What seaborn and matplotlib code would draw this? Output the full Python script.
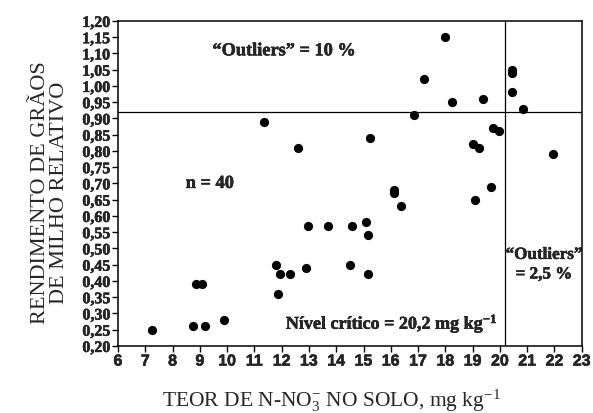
import numpy as np
import pandas as pd
import seaborn as sns
import matplotlib.pyplot as plt
import matplotlib.patheffects as pe

# Soil nitrate content (mg/kg) and relative corn yield
teor_no3 = [7.25, 8.75, 9.2, 8.85, 9.07, 9.9, 11.8, 11.85, 11.95, 12.3,
            12.9, 12.97, 13.7, 14.56, 15.08, 15.18, 14.5, 15.16, 16.1, 16.12,
            16.37, 19.07, 19.69, 12.6, 11.34, 15.24, 16.85, 17.21, 17.98, 18.23,
            19.37, 20.44, 20.44, 20.44, 20.84, 19.75, 19.98, 19.0, 19.22, 21.93]
rendimento = [0.25, 0.26, 0.26, 0.39, 0.39, 0.28, 0.45, 0.36, 0.42, 0.42,
              0.44, 0.57, 0.57, 0.57, 0.58, 0.54, 0.45, 0.42, 0.68, 0.67,
              0.63, 0.65, 0.69, 0.81, 0.89, 0.84, 0.91, 1.02, 1.15, 0.95,
              0.96, 1.05, 1.04, 0.98, 0.93, 0.87, 0.86, 0.82, 0.81, 0.79]
nivel_critico = 20.2
rend_limite = 0.92
x_ticks = list(range(6, 24))
y_ticks = [round(0.20 + 0.05 * i, 2) for i in range(21)]
y_labels = [f'{v:.2f}'.replace('.', ',') for v in y_ticks]

df = pd.DataFrame({'teor': teor_no3, 'rend': rendimento})

sns.set_style('ticks')
plt.rcParams['font.family'] = ['Liberation Serif', 'DejaVu Serif']
plt.rcParams['mathtext.fontset'] = 'custom'
plt.rcParams['mathtext.rm'] = 'Liberation Serif'
plt.rcParams['mathtext.it'] = 'Liberation Serif:italic'
plt.rcParams['mathtext.bf'] = 'Liberation Serif:bold'

# a thin stroke to make bold text as heavy as the original
heavy = [pe.withStroke(linewidth=0.35, foreground='black')]

fig = plt.figure(figsize=(5.93, 4.14), dpi=100)
ax = fig.add_axes([0.199, 0.162, 0.782, 0.785])

sns.scatterplot(x='teor', y='rend', data=df, ax=ax, color='black',
                s=44, edgecolor='black', linewidth=0, zorder=3)

ax.axhline(rend_limite, color='black', lw=0.9)
ax.axvline(nivel_critico, color='black', lw=0.9)

ax.set_xlim(6, 23)
ax.set_ylim(0.20, 1.20)
ax.set_xticks(x_ticks)
ax.set_xticklabels([str(v) for v in x_ticks], fontfamily='Liberation Sans',
                   fontweight='bold', fontsize=11.5, path_effects=heavy)
ax.set_yticks(y_ticks)
ax.set_yticklabels(y_labels, fontweight='bold', fontsize=11.5, path_effects=heavy)
ax.tick_params(direction='out', length=4, width=1, color='black', pad=1.5)
for sp in ax.spines.values():
    sp.set_color('black')
    sp.set_linewidth(1.1)

ax.set_xlabel(r'TEOR DE N-NO$_3^{-}$ NO SOLO, mg kg$^{-1}$', fontsize=15.5)
ax.xaxis.set_label_coords(0.46, -0.125)
ax.set_ylabel('RENDIMENTO DE GRÃOS\nDE MILHO RELATIVO', fontsize=16, linespacing=1.0)
ax.yaxis.set_label_coords(-0.105, 0.475)

ax.text(12.1, 1.108, '\u201cOutliers\u201d = 10 %', ha='center', va='center',
        fontsize=13.2, fontweight='bold', path_effects=heavy)
ax.text(9.37, 0.70, 'n = 40', ha='center', va='center', fontsize=13.2,
        fontweight='bold', path_effects=heavy)
ax.text(19.9, 0.27, r'Nível crítico = 20,2 mg kg$^{\mathbf{-1}}$', ha='right', va='center',
        fontsize=13, fontweight='bold', path_effects=heavy)
ax.text(21.62, 0.45, '\u201cOutliers\u201d\n= 2,5 %', ha='center', va='center',
        fontsize=12.3, fontweight='bold', linespacing=1.3, path_effects=heavy)

fig.savefig('out.png', dpi=100)
